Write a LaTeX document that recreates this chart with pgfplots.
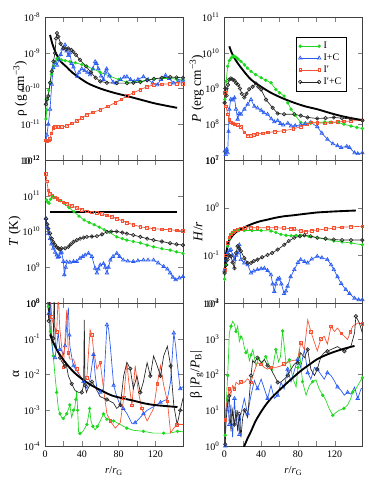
\documentclass[border=0pt]{standalone}
\usepackage{fontspec}
\setmainfont{Liberation Serif}
\usepackage{pgfplots}
\pgfplotsset{compat=1.18}
\usepgfplotslibrary{groupplots}
\definecolor{cI}{RGB}{30,215,30}
\definecolor{cIC}{RGB}{40,90,240}
\definecolor{cIp}{RGB}{245,80,50}
\begin{document}
\begin{tikzpicture}
\pgfplotsset{
  sI/.style={color=cI, mark=*, mark size=1.0pt, mark options={solid,fill=cI}},
  sIC/.style={color=cIC, mark=triangle, mark size=1.5pt, mark options={solid}},
  sIp/.style={color=cIp, mark=square, mark size=1.0pt, mark options={solid}},
  sIpC/.style={color=black!85, mark=o, mark size=1.3pt, mark options={solid}},
  model/.style={black, line width=1.4pt, no marks, smooth},
}
\begin{groupplot}[
  group style={group size=2 by 3, horizontal sep=31pt, vertical sep=0pt,
    xticklabels at=edge bottom, xlabels at=edge bottom},
  width=103.5pt, height=107.25pt, scale only axis,
  xmin=0, xmax=150, xtick={0,40,80,120}, minor x tick num=1,
  ymode=log, log basis y=10, yminorticks=false,
  tick align=inside, major tick length=3.5pt, minor tick length=3.5pt,
  ticklabel style={font=\fontsize{7.5}{8.5}\selectfont},
  label style={font=\fontsize{8}{9.5}\selectfont},
  xticklabel style={/pgf/number format/assume math mode=true},
  log number format basis/.code 2 args={#1\textsuperscript{\pgfmathprintnumber[assume math mode=true]{#2}}},
  xlabel={\textit{r}/\textit{r}\textsubscript{G}},
  every axis y label/.style={at={(axis description cs:-0.2,0.5)}, rotate=90, anchor=center},
  every axis plot/.append style={line width=0.5pt},
  axis line style={black!75},
  legend image code/.code={\draw[#1] plot coordinates {(0cm,0cm) (0.5cm,0cm)};},
]

% ---- density
\nextgroupplot[ymin=1e-12, ymax=1e-8, ytick={1e-12,1e-11,1e-10,1e-9,1e-8},
  ylabel={ρ (g cm\textsuperscript{−3})},
  every axis y label/.style={at={(axis description cs:-0.18,0.5)}, rotate=90, anchor=center}]
\addplot[sI] coordinates {
(1,1.41e-11) (2,2.51e-11) (3,5.01e-11) (4,8.91e-11) (5.5,1.45e-10) (7,2.51e-10)
(9,4.17e-10) (11,5.62e-10) (13,6.76e-10) (15,7.08e-10) (18,6.31e-10) (22,6.03e-10)
(27,5.62e-10) (33,5.25e-10) (40,4.68e-10) (45.5,4.17e-10) (52,3.55e-10) (60,2.82e-10)
(71,2.19e-10) (80,1.78e-10) (89,1.51e-10) (96,1.51e-10) (104,1.58e-10) (111,1.74e-10)
(118,1.86e-10) (127,1.91e-10) (136,1.91e-10) (143,1.82e-10) (150,1.74e-10)};
\addplot[sIC] coordinates {
(1,3.55e-12) (2,5.01e-12) (3.6,1e-11) (5.5,2.63e-11) (7.3,1.32e-10) (9,3.8e-10)
(11,5.37e-10) (13,4.47e-10) (15,6.31e-10) (17,8.91e-10) (19,1.26e-9) (21.8,1.66e-9)
(23.5,1.12e-9) (25.4,8.32e-10) (27,1e-9) (29,5.01e-10) (31,3.98e-10) (34.9,2.19e-10)
(37,2.82e-10) (40,3.55e-10) (43,3.16e-10) (46,2.82e-10) (49,2.4e-10) (52,3.55e-10)
(54.5,5.62e-10) (56,5.01e-10) (58,3.55e-10) (61,2.24e-10) (63.6,1.78e-10) (65.5,2.82e-10)
(67,3.55e-10) (70,2.24e-10) (74,1.51e-10) (77,1.41e-10) (82,1.78e-10) (86,2.09e-10)
(89,2.14e-10) (93,1.78e-10) (97,1.58e-10) (101,1.78e-10) (107,2.14e-10) (112,1.78e-10)
(117,1.41e-10) (122,1.26e-10) (126,1.78e-10) (131,2.34e-10) (135,1.91e-10) (140,1.41e-10)
(145,1.58e-10) (150,1.7e-10)};
\addplot[sIp] coordinates {
(0.5,3.55e-12) (2,3.39e-12) (4,3.55e-12) (5.5,3.98e-12) (7,5.62e-12) (9,7.94e-12)
(11,8.51e-12) (14.5,8.32e-12) (18,8.32e-12) (23.6,8.91e-12) (29,1.05e-11) (34.5,1.23e-11)
(40,1.51e-11) (45.5,1.86e-11) (52,2.14e-11) (60,2.51e-11) (68,3.16e-11) (76.3,3.98e-11)
(83,5.01e-11) (89,6.17e-11) (96,7.59e-11) (103.6,9.33e-11) (111,1.12e-10) (118,1.26e-10)
(127,1.32e-10) (136,1.35e-10) (143,1.35e-10) (150,1.35e-10)};
\addplot[sIpC] coordinates {
(1,3.63e-11) (2,5.01e-11) (3.6,6.17e-11) (5.5,1.45e-10) (7.3,3.02e-10) (9.1,5.75e-10)
(10.9,9.77e-10) (12,2.51e-9) (13,3.55e-9) (14.5,2.82e-9) (17,1.78e-9) (20,1.35e-9)
(23,1.26e-9) (25.4,1.32e-9) (28.7,1.2e-9) (31,1.05e-9) (33.8,8.71e-10) (38,6.31e-10)
(44.7,4.17e-10) (50,2.82e-10) (55,2.0e-10) (60,1.58e-10) (67.3,1.45e-10) (78,1.41e-10)
(89,1.41e-10) (96,1.45e-10) (103.6,1.51e-10) (111,1.7e-10) (118.5,1.86e-10) (127,2.0e-10)
(136,2.09e-10) (143,2.04e-10) (150,2.0e-10)};
\addplot[model] coordinates {
(5.5,3.16e-9) (8,1.78e-9) (12,9.55e-10) (17,5.75e-10) (23.6,3.98e-10) (30,2.75e-10)
(45.5,1.45e-10) (60,1e-10) (75,7.59e-11) (89,6.17e-11) (105,4.79e-11) (120,3.8e-11)
(143.6,2.88e-11)};

% ---- pressure
\nextgroupplot[ymin=1e7, ymax=1e11, ytick={1e7,1e8,1e9,1e10,1e11},
  ylabel={\textit{P} (erg cm\textsuperscript{−3})},
  legend style={at={(0.884,0.86)}, anchor=north east, draw=black, line width=0.4pt,
    font=\fontsize{7.5}{8.5}\selectfont, cells={anchor=west}, inner sep=1.5pt,
    row sep=-1.5pt}]
\addplot[sI] coordinates {
(0.5,4.9e8) (2,1.58e9) (3.6,4.17e9) (5.4,6.03e9) (7.2,7.08e9) (9,7.94e9) (10.9,7.94e9)
(13,7.41e9) (15,6.61e9) (18,5.75e9) (22,4.57e9) (25,3.72e9) (29,3.02e9) (34,2.45e9)
(40,2.0e9) (45,1.7e9) (50.7,1.45e9) (56,9.33e8) (60,7.59e8) (65,6.17e8) (69,3.98e8)
(72.5,2.63e8) (77,1.78e8) (83,1.12e8) (88,1.05e8) (94,1.07e8) (101,1.12e8) (109,1.15e8)
(116,1.15e8) (123.6,1.12e8) (130,1e8) (137.7,8.91e7) (144,8.13e7) (150,7.59e7)};
\addplot[sIC] coordinates {
(0.5,1.78e7) (1.5,1.41e7) (2.5,2e7) (3.6,1.58e7) (4.5,6.31e7) (5.4,2.63e8) (7,5.01e8)
(9,4.79e8) (11,5.5e8) (12.7,2.63e8) (14.5,1.38e8) (16,2e8) (18,1.91e8) (21.7,2.63e8)
(25.4,3.63e8) (29,4.9e8) (32.6,3.16e8) (36,2.82e8) (40,2.45e8) (43,2.09e8) (47,1.91e8)
(51,1.41e8) (54.3,1.17e8) (58,1.26e8) (61,1.05e8) (64,9.55e7) (69,1.07e8) (72.5,8.91e7)
(77,9.12e7) (83,9.55e7) (88,1.05e8) (94,1.12e8) (101,8.51e7) (106,5.62e7) (112,3.8e7)
(118,2.82e7) (123,2.51e7) (127,2.24e7) (133,2.4e7) (136,2.24e7) (141.5,1.58e7)
(145,1.51e7) (150,1.58e7)};
\addplot[sIp] coordinates {
(0.3,7.59e8) (1.8,3.16e8) (3.6,1.91e8) (5.5,1.32e8) (7,1.12e8) (9,1.05e8) (11,1e8)
(14.5,9.55e7) (18,8.51e7) (21.7,5.89e7) (25.4,4.79e7) (29,4.68e7) (32,5.01e7)
(36,5.37e7) (42,5.62e7) (47,5.89e7) (55,6.17e7) (65,6.61e7) (75,7.41e7) (83,8.51e7)
(90,1e8) (94,1.12e8) (101,1.1e8) (109,1.07e8) (116,1.12e8) (123.6,1.17e8) (130,1.2e8)
(137.7,1.23e8) (150,1.29e8)};
\addplot[sIpC] coordinates {
(0.3,3.98e8) (1.2,1e9) (2.5,6.31e8) (4,1.26e9) (5.4,1.78e9) (7,1.91e9) (9,1.78e9)
(11,1.66e9) (13,1.41e9) (15,1.26e9) (17,1e9) (19,7.08e8) (21.7,5.62e8) (24,7.08e8)
(27,9.55e8) (30.8,1.12e9) (34.4,1.38e9) (37,1.12e9) (40,9.33e8) (45.3,4.9e8)
(52.5,2.88e8) (58,2.0e8) (65,1.91e8) (76,1.91e8) (83,1.74e8) (90.5,1.55e8) (101,1.45e8)
(110,1.48e8) (119,1.55e8) (128,1.48e8) (137.7,1.41e8) (150,1.29e8)};
\addplot[model] coordinates {
(5.4,1.51e10) (8,1e10) (11,7.08e9) (14.5,5.13e9) (20,3.31e9) (29,1.78e9) (40,1.12e9)
(50.7,7.59e8) (63,5.37e8) (76,3.98e8) (88,3.16e8) (101,2.63e8) (114,2.09e8) (127,1.7e8)
(140,1.45e8) (148.6,1.32e8)};
\legend{I, I+C, I′, I′+C}

% ---- temperature
\nextgroupplot[ymin=1e8, ymax=1e12, ytick={1e8,1e9,1e10,1e11,1e12},
  ylabel={\textit{T} (K)},
  every axis y label/.style={at={(axis description cs:-0.22,0.5)}, rotate=90, anchor=center}]
\addplot[sI] coordinates {
(1.8,7.59e10) (3,6.61e10) (4.4,6.17e10) (6,7.94e10) (8,9.33e10) (10,8.91e10)
(13.5,8.32e10) (17,7.24e10) (20.7,6.17e10) (26,4.68e10) (31.6,3.55e10) (37,2.69e10)
(42.5,2.09e10) (48,1.78e10) (53.4,1.55e10) (59,1.32e10) (64.3,1.12e10) (70,9.55e9)
(78,7.08e9) (84,6.31e9) (89,5.75e9) (96,5.25e9) (103.6,4.79e9) (111,4.17e9) (118,3.72e9)
(127,3.31e9) (136,3.02e9) (143,2.69e9) (150,2.45e9)};
\addplot[sIC] coordinates {
(1.1,2.29e10) (2.5,1.26e10) (3.6,8.71e9) (5.5,6.31e9) (7,4.47e9) (9,3.39e9) (11,2.63e9)
(12.7,2.19e9) (14,1.91e9) (15.3,2e9) (17,2.51e9) (18,2.63e9) (20,1.45e9) (21,6.17e8)
(22.5,1e9) (23.6,1.41e9) (27,1.38e9) (31,1.45e9) (34.5,1.45e9) (38,1.78e9) (41,2e9)
(43.6,2.19e9) (47.3,2.45e9) (51,2e9) (54.5,9.33e8) (56.4,6.92e8) (58,8.91e8) (60,1.15e9)
(63.6,1.26e9) (65.5,1e9) (67.3,6.92e8) (69,1e9) (71,1.58e9) (74,2e9) (78,2.45e9) (81,2e9)
(85,1.58e9) (90,1.48e9) (96,1.45e9) (101,1.51e9) (107,1.58e9) (112,1.58e9) (118,1.58e9)
(123,1.32e9) (129,1.05e9) (133,8.91e8) (136,6.92e8) (139,5.25e8) (142,4.47e8)
(146,5.01e8) (150,5.5e8)};
\addplot[sIp] coordinates {
(1.1,4.07e11) (2,2.51e11) (3.6,1.41e11) (5.5,1.15e11) (8,1e11) (10.9,9.12e10)
(13.5,8.13e10) (16.4,7.41e10) (20,6.61e10) (23.6,6.03e10) (29,5.25e10) (34.5,4.57e10)
(40,4.07e10) (45.5,3.63e10) (51,3.47e10) (56.4,3.31e10) (62,3.09e10) (67.3,2.82e10)
(73,2.57e10) (78,2.29e10) (84,2e10) (89,1.78e10) (96,1.55e10) (103.6,1.35e10)
(111,1.26e10) (118,1.2e10) (127,1.15e10) (136,1.12e10) (143,1.07e10) (150,1.05e10)};
\addplot[sIpC] coordinates {
(1.1,2.29e10) (2.5,1.58e10) (3.6,1.2e10) (5.5,8.91e9) (7.3,6.31e9) (9,5.01e9)
(11,4.17e9) (12.7,3.63e9) (14.5,3.39e9) (16,3.16e9) (18,3.39e9) (21.8,3.39e9)
(25.4,3.72e9) (28,4.37e9) (31,5.13e9) (34.5,5.75e9) (38.2,6.31e9) (42,6.76e9)
(45.5,7.08e9) (51,7.24e9) (56.4,7.41e9) (62,8.32e9) (67.3,9.77e9) (72,1e10) (78,1e10)
(84,9.33e9) (89,8.71e9) (96,7.94e9) (103.6,7.08e9) (111,6.31e9) (118,5.75e9)
(127,5.25e9) (136,4.68e9) (143,4.37e9) (150,4.17e9)};
\addplot[model] coordinates {(5,3.55e10) (144,3.55e10)};

% ---- H/r
\nextgroupplot[ymin=1e-2, ymax=1e1, ytick={1e-2,1e-1,1e0,1e1},
  ylabel={\textit{H}/\textit{r}},
  every axis y label/.style={at={(axis description cs:-0.19,0.5)}, rotate=90, anchor=center}]
\addplot[sI] coordinates {
(0.3,0.0316) (1.5,0.0631) (3.6,0.155) (5.4,0.224) (7,0.275) (9,0.302) (11,0.324)
(15,0.331) (21.7,0.331) (30,0.331) (40,0.331) (50.7,0.324) (56,0.302) (61.6,0.275)
(67,0.263) (72.5,0.257) (78,0.263) (83,0.263) (92,0.251) (101,0.234) (110,0.219)
(119,0.2) (128,0.191) (137.7,0.182) (150,0.166)};
\addplot[sIC] coordinates {
(0.3,0.0479) (2,0.0794) (3.6,0.112) (5.4,0.126) (7.2,0.132) (9,0.1) (11,0.0813)
(13,0.1) (14.5,0.112) (16.3,0.166) (18,0.0813) (21.7,0.0692) (25.4,0.0631) (29,0.0427)
(32,0.0468) (36,0.0501) (40,0.0525) (43.5,0.0537) (47,0.0479) (50.7,0.0389)
(52.5,0.0251) (54.3,0.0174) (56,0.0251) (58,0.0316) (59.8,0.0331) (62,0.0251)
(65,0.0158) (67,0.0178) (68.8,0.0224) (72,0.0355) (76,0.0501) (80,0.0708) (83,0.0813)
(87,0.0741) (90.5,0.0692) (95,0.0832) (101,0.0955) (106,0.0891) (112,0.0813)
(116,0.0631) (119,0.0501) (123,0.0355) (127,0.0257) (132,0.0191) (136,0.0158)
(141.5,0.0126) (146,0.0117) (150,0.0117)};
\addplot[sIp] coordinates {
(0.3,0.0501) (1.5,0.1) (3.6,0.182) (5.4,0.24) (7.2,0.275) (9,0.302) (11,0.324)
(14.5,0.347) (18,0.363) (22,0.372) (29,0.38) (36,0.38) (47,0.38) (56,0.38) (65,0.372)
(72,0.363) (76,0.355) (83,0.324) (88.8,0.316) (95,0.331) (101,0.339) (110,0.355)
(119,0.372) (128,0.389) (137.7,0.398) (150,0.407)};
\addplot[sIpC] coordinates {
(0.3,0.0427) (2,0.0631) (3.6,0.0813) (5.4,0.1) (7.2,0.0955) (9,0.0708) (11,0.0537)
(12.7,0.112) (14.5,0.155) (16,0.141) (18,0.123) (21.7,0.0871) (25.4,0.0692)
(29,0.0692) (32,0.0759) (36,0.0813) (41,0.0912) (47,0.102) (52,0.112) (58,0.132)
(65,0.166) (70,0.2) (76,0.234) (82,0.251) (87,0.263) (94,0.251) (101,0.234) (110,0.224)
(119,0.214) (128,0.209) (137.7,0.209) (150,0.209)};
\addplot[model] coordinates {
(0.5,0.0501) (2,0.112) (3.6,0.155) (5,0.2) (7.2,0.234) (10,0.275) (14.5,0.324)
(20,0.372) (29,0.447) (38,0.513) (47,0.562) (56,0.617) (65,0.661) (75,0.692) (83,0.724)
(92,0.759) (101,0.794) (110,0.813) (119,0.832) (130,0.851) (143,0.871)};

% ---- alpha
\nextgroupplot[ymin=1e-4, ymax=1e0, ytick={1e-4,1e-3,1e-2,1e-1,1e0},
  ylabel={α},
  every axis y label/.style={at={(axis description cs:-0.21,0.5)}, rotate=90, anchor=center}]
\addplot[sI, mark repeat=2] coordinates {
(2,1.58) (3.6,0.794) (4.7,0.339) (6,0.158) (7.3,0.0955) (9,0.0331) (10.9,0.00912)
(12.7,0.00316) (14.5,0.0011) (16.4,7.94e-4) (18,6.31e-4) (20,5.89e-4) (22,7.08e-4)
(23.6,7.94e-4) (25,1e-3) (27,1.41e-3) (29,6.31e-4) (31,1e-3) (32,1e-3) (33.5,2e-3)
(34.5,3.55e-3) (35.5,1e-3) (36.5,2.51e-4) (38,2.24e-4) (41,2.51e-4) (45.5,3.98e-4)
(47,6.31e-4) (48.5,1.12e-3) (50,5.01e-4) (52,3.55e-4) (54.5,2.82e-4) (57,3.55e-4)
(60,5.01e-4) (63.6,7.94e-4) (65.5,6.31e-4) (67.3,5.62e-4) (71,5.25e-4) (74.6,5.01e-4)
(81.8,3.98e-4) (89,3.16e-4) (96,2.75e-4) (107,2.57e-4) (118,2.29e-4) (129,2.29e-4)
(136,2.29e-4) (144,2.57e-4) (150,2.51e-4)};
\addplot[sIC, mark repeat=3] coordinates {
(2,2.0) (4,0.501) (5.5,2.0) (7.3,0.0776) (9,0.0355) (10.9,0.0295) (12.7,0.0631)
(14.5,0.155) (16,0.0501) (18,0.0479) (20,0.0355) (21.8,0.0631) (24,0.316) (25.4,0.741)
(26.5,0.126) (27,0.0631) (29,0.0316) (30.9,0.0174) (34.5,0.0126) (38.2,0.00912)
(41.8,0.00631) (45.5,0.00407) (49,0.00741) (52.7,0.0363) (54.5,0.01) (56.4,0.00407)
(60,0.00316) (63.6,0.00398) (65.5,0.0316) (67.3,0.245) (69,0.2) (71,0.0631)
(74.6,0.00501) (78,0.0024) (81.8,0.00138) (85,0.00112) (89,8.13e-4) (94.5,4.27e-4)
(98,4.47e-4) (100,5.01e-4) (103.6,6.31e-4) (107,7.94e-4) (111,0.001) (118,0.00126)
(125.5,0.00166) (133,0.00204) (136.5,0.00631) (140,0.145) (142,0.0631) (143.6,0.0219)
(147,0.00398) (150,0.00457)};
\addplot[sIp, mark repeat=3] coordinates {
(2,2.0) (5.5,2.0) (7.3,0.407) (9,0.251) (10.9,0.2) (12.7,0.155) (14.5,2.0) (16,0.2)
(18,0.0631) (20,0.0158) (22,0.126) (23.6,0.631) (25.4,0.0398) (27,0.0269) (31,0.0269)
(34.5,0.0141) (38.2,0.00912) (41.8,0.00631) (45.5,0.00794) (47,0.0316) (49,0.178)
(51,0.126) (52.7,0.0501) (56.4,0.0141) (60,0.0219) (63.6,0.00398) (67.3,7.94e-4)
(71,5.01e-4) (76.4,3.16e-4) (81.8,4.47e-4) (85.5,0.00219) (89,0.0219) (91,0.00631)
(94.5,0.00138) (98,0.0178) (101,0.00398) (105,0.00112) (111,5.01e-4) (118,0.00112)
(122,0.00537) (125.5,0.0178) (129,0.00501) (133,0.00178) (136.5,2.34e-4) (140,3.16e-4)
(143.6,3.98e-4) (150,3.98e-4)};
\addplot[sIpC, mark repeat=3] coordinates {
(3,2.0) (4,0.316) (5,2.0) (5.5,0.145) (7,0.126) (9,0.102) (10,2.0) (11,0.0794)
(12.7,0.0501) (16.4,0.0295) (18,0.0234) (20,0.02) (21.8,0.0174) (23,0.02) (25.4,0.00912)
(29,0.0055) (32.7,0.00355) (36.4,0.00316) (40,0.00316) (42,0.00501) (42.7,0.339)
(43.5,0.00501) (45,0.00316) (47,0.00417) (51,0.00631) (54.5,0.00447) (60,0.0024)
(67.3,0.002) (74.5,0.00158) (78,0.00112) (82,0.00141) (85.5,0.00912) (89,0.0219)
(92.7,0.0145) (96,0.00398) (100,0.00912) (103.6,0.00316) (107,0.00631) (111,0.0214)
(114.5,0.00912) (118,0.0331) (122,0.0174) (125.5,0.00912) (129,0.0331) (133,0.0617)
(136.5,0.0174) (140,0.00138) (143.6,3.98e-4) (147,0.001) (150,0.00219)};
\addplot[model] coordinates {
(5.5,0.132) (8,0.0891) (12.7,0.0501) (18,0.0302) (23.6,0.0195) (30,0.0126)
(36,0.00912) (43,0.00661) (51,0.0049) (62,0.00347) (73,0.00257) (85,0.00214)
(96,0.00186) (107,0.00158) (118,0.00141) (130,0.00132) (144,0.00123)};

% ---- beta
\nextgroupplot[ymin=1e0, ymax=1e4, ytick={1e0,1e1,1e2,1e3,1e4},
  ylabel={β |\textit{P}\textsubscript{g}/\textit{P}\textsubscript{B}|}]
\addplot[sI, mark repeat=3] coordinates {
(1,2.0) (1.8,10) (2.7,31.6) (3.6,93.3) (4.7,398) (5.4,1445) (7.2,2239) (9,3090)
(11,2512) (12.7,1585) (14.5,2239) (16.3,832) (18,1122) (19.9,1000) (21.7,562)
(23.5,407) (25,501) (27.2,240) (29,355) (31,501) (34.4,174) (37,282) (40,224)
(41.6,214) (45,316) (48.9,174) (52,126) (56,501) (59,224) (61,316) (63.3,1660)
(65.5,501) (67,200) (70.6,257) (74.3,79.4) (78,44.7) (80,158) (81.5,501) (83,200)
(85,63.1) (88.8,26.3) (92.4,49) (96,63.1) (99.6,70.8) (103,39.8) (107,26.3) (110,20)
(114,11) (117.9,7.24) (122,8.91) (125,10) (130,11.2) (134,14.1) (137,20) (139.7,32.4)
(143,39.8) (147,60.3) (150,81.3)};
\addplot[sIC, mark repeat=3] coordinates {
(1,1.0) (1.8,7.94) (3.6,21.4) (5.4,3.98) (7.2,14.1) (9,1.74) (11,21.4) (12.7,3.98)
(14.5,10) (16.3,2.09) (18,7.94) (21.7,21.4) (25.3,7.94) (29,26.3) (32.6,67.6) (36,39.8)
(40,74.1) (43.5,39.8) (47,21.4) (50.7,50.1) (54.3,21.4) (58,26.3) (61.6,60.3) (65,39.8)
(68.8,141) (72.5,63.1) (76,126) (79.7,263) (83,158) (87,501) (90.6,112) (94,74.1)
(98,158) (101,141) (105,100) (108.6,74.1) (112,112) (116,93.3) (119,70.8) (123,44.7)
(127,35.5) (130.4,26.3) (134,31.6) (137.7,28.2) (141.5,44.7) (145,21.4) (148.6,39.8)
(150,41.7)};
\addplot[sIp, mark repeat=3] coordinates {
(1,5.37) (2,12.6) (3.6,22.9) (5.4,39.8) (7.2,28.2) (9,49) (11,39.8) (12.7,60.3)
(16,52.5) (18,63.1) (21.7,60.3) (25.3,75.9) (29,60.3) (32.6,126) (36,214) (40,191)
(43.5,158) (47,141) (50.7,158) (56,158) (61.6,174) (65,195) (72.5,240) (79.7,263)
(83,776) (87,501) (90.6,3388) (94,1585) (98,776) (101,457) (105,1000) (108.6,1175)
(112,708) (116,2239) (119.6,1585) (123,1995) (127,1413) (130.4,1175) (134,955)
(137,1585) (139.5,2239) (145,2754) (150,2630)};
\addplot[sIpC, mark repeat=3] coordinates {
(1,1.12) (1.8,5.01) (3.6,14.1) (5.4,25.1) (7.2,2.57) (9,10) (11,3.98) (12.7,10)
(14.5,2.57) (16.3,7.94) (18,1.74) (20,6.31) (22,10) (25.3,6.31) (27,21.4) (29,93.3)
(30.8,251) (32.6,214) (36,295) (40,214) (43.5,263) (47,178) (50.7,141) (54.3,93.3)
(58,60.3) (61,60.3) (65,74.1) (68.8,93.3) (72.5,141) (76,195) (79.7,214) (83,407)
(87,295) (90.6,501) (94,141) (98,93.3) (101,141) (105,316) (108.6,407) (112,447)
(116,501) (123,603) (130.4,447) (137.7,631) (141.5,1445) (143,4266) (146.8,2754)
(150,1445)};
\addplot[model] coordinates {
(20,0.8) (21.7,1) (25,1.58) (29,2.57) (34,5.01) (40,9.12) (45,14.1) (50.7,21.4)
(58,33.1) (65,49) (74,79.4) (83,126) (92,186) (101,269) (110,347) (119,427) (130,525)
(141.5,631)};
\end{groupplot}
\pgfresetboundingbox
\path ([shift={(-33.75pt,12.75pt)}]group c1r1.north west) rectangle
      ([shift={(8.25pt,-28.5pt)}]group c2r3.south east);
\end{tikzpicture}
\end{document}
